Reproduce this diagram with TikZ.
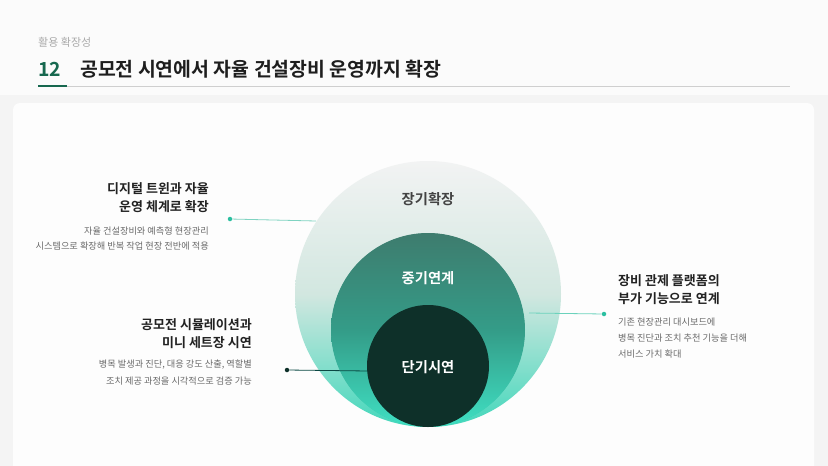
\documentclass[tikz,border=0pt]{standalone}
\usepackage{fontspec}
\setmainfont{Noto Sans CJK KR}
\newfontfamily\krb{Noto Sans CJK KR Bold}
\definecolor{bgc}{HTML}{F4F4F4}
\definecolor{cardc}{HTML}{FDFDFD}
\definecolor{greenc}{HTML}{17684F}
\definecolor{titlec}{HTML}{1E1E1E}
\definecolor{subc}{HTML}{AAAAAA}
\definecolor{ruleg}{HTML}{CFCFCF}
\definecolor{bodyc}{HTML}{6A6A6A}
\definecolor{headc}{HTML}{222222}
\definecolor{dotc}{HTML}{2BBFA0}
\definecolor{linec}{HTML}{7FD3C1}
\definecolor{darkc}{HTML}{0E3029}
\definecolor{outtop}{HTML}{F2F3F3}
\definecolor{outmid}{HTML}{D2E7E0}
\definecolor{outbot}{HTML}{42D7BB}
\definecolor{midtop}{HTML}{3E7C6E}
\definecolor{midmid}{HTML}{349C88}
\definecolor{midbot}{HTML}{3FE0C3}
\tikzset{
  head/.style={font=\krb\fontsize{13}{18.5}\selectfont, text=headc, inner sep=0pt, align=right},
  body/.style={font=\fontsize{9.2}{#1}\selectfont, text=bodyc, inner sep=0pt, align=right},
  ring/.style={font=\krb\fontsize{14.3}{16}\selectfont, inner sep=0pt},
  dotn/.style={circle, fill=#1, minimum size=4.5pt, inner sep=0pt},
}
\begin{document}
\begin{tikzpicture}[x=1pt,y=-1pt]
\useasboundingbox (0,0) rectangle (828,466);
\fill[bgc] (0,0) rectangle (828,466);
\fill[white!60!bgc] (0,0) rectangle (828,95);
\fill[cardc, rounded corners=7pt] (13,103) rectangle (814,480);
% title
\node[anchor=west, inner sep=0pt, font=\fontsize{11}{12}\selectfont, text=subc] (sub) at (38,42) {활용 확장성};
\node[anchor=west, inner sep=0pt, font=\krb\fontsize{19.4}{21}\selectfont, text=greenc] (num) at (38,69) {12};
\node[anchor=west, inner sep=0pt, font=\krb\fontsize{19.4}{21}\selectfont, text=titlec] (title) at (80,69) {공모전 시연에서 자율 건설장비 운영까지 확장};
\draw[ruleg, line width=0.6pt] (38,86) -- (790,86);
\draw[greenc, line width=2.4pt] (38,86) -- (67,86);
% circles
\shade[top color=outtop, bottom color=outbot, middle color=outmid] (428,294) circle (133);
\fill[midmid] (428,330) circle (96.6);
\shade[top color=midtop, bottom color=midbot, middle color=midmid] (428,330) circle (97);
\fill[darkc] (428,366) circle (61);
\node[ring, text=headc!85] (long) at (428,199) {장기확장};
\node[ring, text=white] (midn) at (428,278) {중기연계};
\node[ring, text=white] (short) at (428,367) {단기시연};
% connectors
\node[dotn=dotc] (d1) at (230,219) {};
\coordinate (e1) at (316,221);
\draw[linec, line width=0.8pt] (d1) -- (e1);
\node[dotn=dotc] (d2) at (604,314) {};
\coordinate (e2) at (529,313);
\draw[dotc!70, line width=0.8pt] (e2) -- (d2);
\node[dotn=darkc] (d3) at (287,370) {};
\coordinate (e3) at (368,371);
\draw[darkc!70!teal, line width=0.8pt] (d3) -- (e3);
% left top text
\node[head, anchor=north east] (h1) at (209,182) {디지털 트윈과 자율\\운영 체계로 확장};
\node[body=15, anchor=north east] (b1) at (209,226.5) {자율 건설장비와 예측형 현장관리\\시스템으로 확장해 반복 작업 현장 전반에 적용};
% left bottom text
\node[head, anchor=north east] (h2) at (252,318) {공모전 시뮬레이션과\\미니 세트장 시연};
\node[body=17, anchor=north east] (b2) at (252,360) {병목 발생과 진단, 대응 강도 산출, 역할별\\조치 제공 과정을 시각적으로 검증 가능};
% right text
\node[head, anchor=north west, align=left] (h3) at (618,274) {장비 관제 플랫폼의\\부가 기능으로 연계};
\node[body=16, anchor=north west, align=left] (b3) at (618,318) {기존 현장관리 대시보드에\\병목 진단과 조치 추천 기능을 더해\\서비스 가치 확대};
\end{tikzpicture}
\end{document}
